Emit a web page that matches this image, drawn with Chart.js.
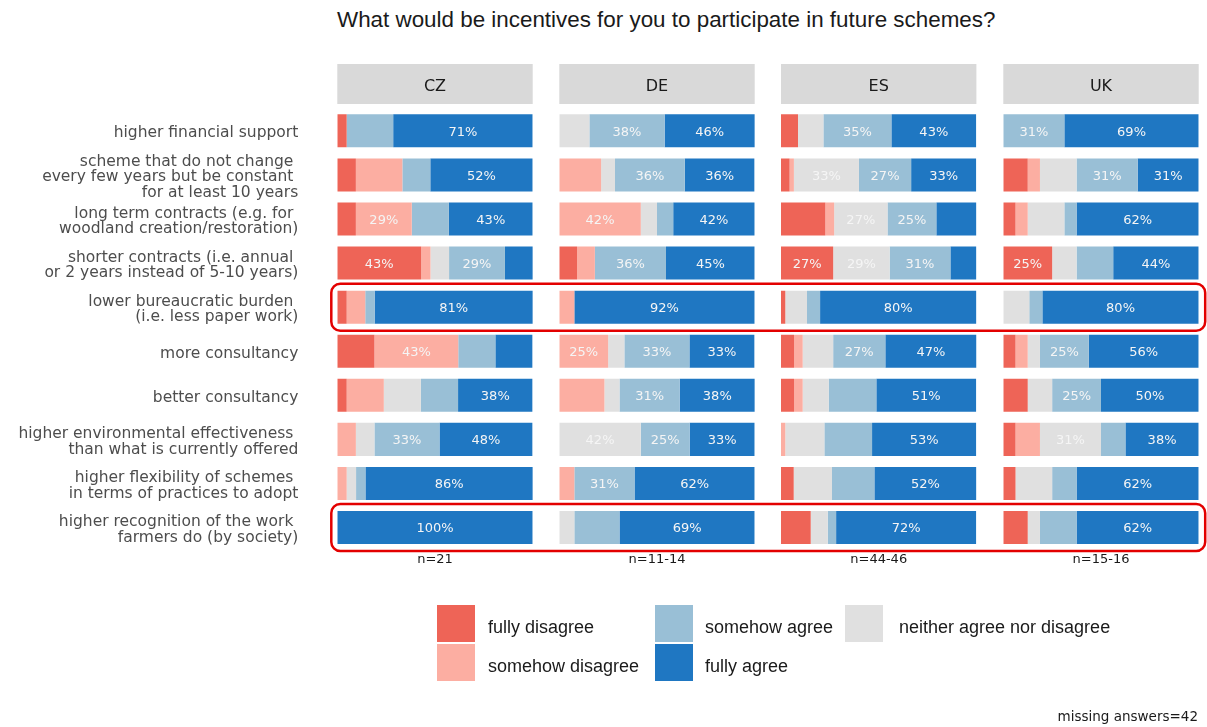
<!DOCTYPE html>
<html>
<head>
<meta charset="utf-8">
<script src="https://cdn.jsdelivr.net/npm/chart.js@4.4.0/dist/chart.umd.min.js"></script>
<style>
  body { margin: 0; background: #fff; }
  #wrap { position: relative; width: 1207px; height: 727px; overflow: hidden; font-family: 'Liberation Sans', Arial, sans-serif; }
  #wrap canvas { position: absolute; left: 0; top: 0; }
  .title { position: absolute; left: 337px; top: 7px; font-size: 22.4px; line-height: 26px; color: #1a1a1a; white-space: nowrap; }
  .sw { position: absolute; width: 38px; height: 37px; }
  .lt { position: absolute; font-size: 18px; line-height: 20px; color: #1a1a1a; white-space: nowrap; }
  .note { position: absolute; right: 9px; top: 708px; font: 13.5px 'DejaVu Sans', sans-serif; color: #1a1a1a; }
</style>
</head>
<body>
<div id="wrap">
  <div class="title">What would be incentives for you to participate in future schemes?</div>
  <canvas id="c0" width="1207" height="727"></canvas>
  <canvas id="c1" width="1207" height="727"></canvas>
  <canvas id="c2" width="1207" height="727"></canvas>
  <canvas id="c3" width="1207" height="727"></canvas>
  <div id="legend"></div>
  <div class="note">missing answers=42</div>
</div>
<script>
// ---- data ----
const countries = ['CZ', 'DE', 'ES', 'UK'];
const sampleSizes = ['n=21', 'n=11-14', 'n=44-46', 'n=15-16'];
const responses = ['fully disagree', 'somehow disagree', 'neither agree nor disagree', 'somehow agree', 'fully agree'];
const responseColors = ['#ee6457', '#fcaea2', '#e0e0e0', '#99bfd6', '#1f77c2'];

const incentives = [
  ['higher financial support'],
  ['scheme that do not change ', 'every few years but be constant ', 'for at least 10 years'],
  ['long term contracts (e.g. for ', 'woodland creation/restoration)'],
  ['shorter contracts (i.e. annual ', 'or 2 years instead of 5-10 years)'],
  ['lower bureaucratic burden ', '(i.e. less paper work)'],
  ['more consultancy'],
  ['better consultancy'],
  ['higher environmental effectiveness ', 'than what is currently offered'],
  ['higher flexibility of schemes ', 'in terms of practices to adopt'],
  ['higher recognition of the work ', 'farmers do (by society)']
];
const highlighted = [4, 9];

// one row per response (fully disagree ... fully agree), one value per incentive, in %
const cz = [
  [4.8, 9.5, 9.5, 42.9, 4.8, 19.0, 4.8, 0, 0, 0],
  [0, 23.8, 28.6, 4.8, 9.5, 42.9, 19.0, 9.5, 4.8, 0],
  [0, 0, 0, 9.5, 0, 0, 19.0, 9.5, 4.8, 0],
  [23.8, 14.3, 19.0, 28.6, 4.8, 19.0, 19.0, 33.3, 4.8, 0],
  [71.4, 52.4, 42.9, 14.3, 81.0, 19.0, 38.1, 47.6, 85.7, 100]
];
const de = [
  [0, 0, 0, 9.1, 0, 0, 0, 0, 0, 0],
  [0, 21.4, 41.7, 9.1, 7.7, 25.0, 23.1, 0, 7.7, 0],
  [15.4, 7.1, 8.3, 0, 0, 8.3, 7.7, 41.7, 0, 7.7],
  [38.5, 35.7, 8.3, 36.4, 0, 33.3, 30.8, 25.0, 30.8, 23.1],
  [46.2, 35.7, 41.7, 45.4, 92.3, 33.3, 38.5, 33.3, 61.5, 69.2]
];
const es = [
  [8.7, 4.4, 22.7, 26.7, 2.2, 6.7, 6.7, 0, 6.5, 15.2],
  [0, 2.2, 4.5, 0, 0, 4.4, 4.4, 2.2, 0, 0],
  [13.0, 33.3, 27.3, 28.9, 11.1, 15.6, 13.3, 20.0, 19.6, 8.7],
  [34.8, 26.7, 25.0, 31.1, 6.7, 26.7, 24.4, 24.4, 21.7, 4.3],
  [43.4, 33.3, 20.5, 13.3, 80.0, 46.7, 51.1, 53.3, 52.2, 71.7]
];
const uk = [
  [0, 12.5, 6.25, 25, 0, 6.25, 12.5, 6.25, 6.25, 12.5],
  [0, 6.25, 6.25, 0, 0, 6.25, 0, 12.5, 0, 0],
  [0, 18.75, 18.75, 12.5, 13.3, 6.25, 12.5, 31.25, 18.75, 6.25],
  [31.25, 31.25, 6.25, 18.75, 6.7, 25, 25, 12.5, 12.5, 18.75],
  [68.75, 31.25, 62.5, 43.75, 80, 56.25, 50, 37.5, 62.5, 62.5]
];
const countryValues = [cz, de, es, uk];

// ---- layout ----
const W = 1207, H = 727;
const panelLeft = [337.3, 559.3, 781, 1003.3];
const panelW = 195.4;
const areaTop = 108.8, areaBottom = 549.6;

Chart.defaults.font.family = "'DejaVu Sans', sans-serif";

// round half to even, like R does
function pct(v) {
  const f = Math.floor(v);
  if (Math.abs(v - f - 0.5) < 1e-9) return (f % 2 === 0 ? f : f + 1) + '%';
  return Math.round(v) + '%';
}

// grey facet strip above each panel
const stripPlugin = {
  id: 'strip',
  beforeDraw(chart) {
    const ca = chart.chartArea, ctx = chart.ctx;
    ctx.save();
    ctx.fillStyle = '#d9d9d9';
    ctx.fillRect(ca.left, ca.top - 44.8, ca.right - ca.left, 40);
    ctx.fillStyle = '#1a1a1a';
    ctx.font = "16px 'DejaVu Sans'";
    ctx.textAlign = 'center';
    ctx.textBaseline = 'middle';
    ctx.fillText(chart.options.plugins.strip.text, (ca.left + ca.right) / 2, ca.top - 22);
    ctx.restore();
  }
};

// percentage labels inside the larger segments
const valueLabels = {
  id: 'valueLabels',
  afterDatasetsDraw(chart) {
    const ctx = chart.ctx;
    ctx.save();
    ctx.font = "13px 'DejaVu Sans'";
    ctx.fillStyle = '#f5f5f5';
    ctx.textAlign = 'center';
    ctx.textBaseline = 'middle';
    chart.data.datasets.forEach((ds, k) => {
      chart.getDatasetMeta(k).data.forEach((el, i) => {
        const v = ds.data[i];
        if (v >= 24.9) ctx.fillText(pct(v), (el.x + el.base) / 2, el.y + 1.5);
      });
    });
    ctx.restore();
  }
};

// red rounded boxes round the highlighted rows, across all panels
const highlightBoxes = {
  id: 'highlightBoxes',
  afterDraw(chart) {
    const ctx = chart.ctx, y = chart.scales.y;
    ctx.save();
    ctx.strokeStyle = '#e30000';
    ctx.lineWidth = 2.5;
    highlighted.forEach(idx => {
      const c = y.getPixelForValue(idx);
      ctx.beginPath();
      ctx.roundRect(panelLeft[0] - 6, c - 23.5, panelLeft[3] + panelW + 6.5 - (panelLeft[0] - 6), 47, 9);
      ctx.stroke();
    });
    ctx.restore();
  }
};

countries.forEach((country, idx) => {
  const first = idx === 0, last = idx === countries.length - 1;
  const vals = countryValues[idx];
  new Chart(document.getElementById('c' + idx), {
    type: 'bar',
    data: {
      labels: incentives,
      datasets: responses.map((r, k) => ({
        label: r,
        data: vals[k],
        backgroundColor: responseColors[k],
        borderWidth: 0,
        barPercentage: 0.75,
        categoryPercentage: 1
      }))
    },
    options: {
      indexAxis: 'y',
      responsive: false,
      animation: false,
      layout: {
        padding: {
          left: first ? 0 : panelLeft[idx],
          right: W - panelLeft[idx] - panelW,
          top: areaTop,
          bottom: H - areaBottom - 22.2
        }
      },
      scales: {
        x: {
          stacked: true, min: 0, max: 100,
          grid: { display: false, drawTicks: false },
          border: { display: false },
          ticks: { display: false },
          title: {
            display: true, text: sampleSizes[idx],
            color: '#1a1a1a', font: { size: 13, lineHeight: 1.2 },
            padding: { top: 2.6, bottom: 4 }
          }
        },
        y: {
          stacked: true,
          display: first,
          grid: { display: false, drawTicks: false },
          border: { display: false },
          ticks: { autoSkip: false, color: '#4d4d4d', font: { size: 15.5, lineHeight: 1.0 }, padding: 39, labelOffset: 2.5 },
          afterFit(scale) { scale.width = first ? panelLeft[0] : 0; }
        }
      },
      plugins: {
        legend: { display: false },
        tooltip: { enabled: false },
        strip: { text: country }
      }
    },
    plugins: last ? [stripPlugin, valueLabels, highlightBoxes] : [stripPlugin, valueLabels]
  });
});

// legend: two rows, filled column by column
const legendSlots = [
  { k: 0, x: 437, y: 605, tx: 488 },
  { k: 1, x: 437, y: 644, tx: 488 },
  { k: 3, x: 655, y: 605, tx: 705 },
  { k: 4, x: 655, y: 644, tx: 705 },
  { k: 2, x: 845, y: 605, tx: 899 }
];
const legend = document.getElementById('legend');
legendSlots.forEach(s => {
  const sw = document.createElement('div');
  sw.className = 'sw';
  sw.style.left = s.x + 'px';
  sw.style.top = s.y + 'px';
  sw.style.background = responseColors[s.k];
  legend.appendChild(sw);
  const t = document.createElement('div');
  t.className = 'lt';
  t.style.left = s.tx + 'px';
  t.style.top = (s.y + 12) + 'px';
  t.textContent = responses[s.k];
  legend.appendChild(t);
});
</script>
</body>
</html>
